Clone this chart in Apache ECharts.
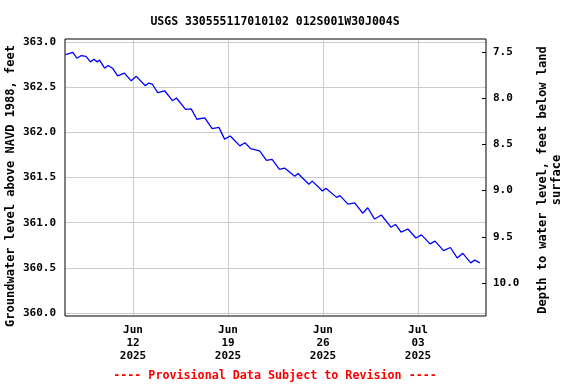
<!DOCTYPE html>
<html>
<head>
<meta charset="utf-8">
<script src="https://cdn.jsdelivr.net/npm/echarts@6/dist/echarts.min.js"></script>
<style>html,body{margin:0;padding:0;background:#fff}#c{width:576px;height:384px}</style>
</head>
<body>
<div id="c"></div>
<script>
const titleText = 'USGS 330555117010102 012S001W30J004S';
const footerText = '---- Provisional Data Subject to Revision ----';
const leftName = 'Groundwater level above NAVD 1988, feet';
const rightName = 'Depth to water level, feet below land\nsurface';

const times = [
 '2025-06-07 01:00','2025-06-07 14:00','2025-06-07 21:00','2025-06-08 05:00','2025-06-08 13:00',
 '2025-06-08 21:00','2025-06-09 03:00','2025-06-09 09:00','2025-06-09 13:00','2025-06-09 22:00',
 '2025-06-10 04:00','2025-06-10 12:00','2025-06-10 21:00','2025-06-11 09:00','2025-06-11 21:00',
 '2025-06-12 06:00','2025-06-12 22:00','2025-06-13 04:00','2025-06-13 10:00','2025-06-13 20:00',
 '2025-06-14 08:00','2025-06-14 22:00','2025-06-15 05:00','2025-06-15 21:00','2025-06-16 07:00',
 '2025-06-16 17:00','2025-06-17 07:00','2025-06-17 20:00','2025-06-18 08:00','2025-06-18 18:00',
 '2025-06-19 04:00','2025-06-19 21:00','2025-06-20 06:00','2025-06-20 16:00','2025-06-21 08:00',
 '2025-06-21 20:00','2025-06-22 06:00','2025-06-22 19:00','2025-06-23 04:00','2025-06-23 22:00',
 '2025-06-24 04:00','2025-06-24 10:00','2025-06-24 23:00','2025-06-25 05:00','2025-06-25 23:00',
 '2025-06-26 05:00','2025-06-27 00:00','2025-06-27 06:00','2025-06-27 20:00','2025-06-28 08:00',
 '2025-06-28 22:00','2025-06-29 07:00','2025-06-29 19:00','2025-06-30 07:00','2025-07-01 00:00',
 '2025-07-01 08:00','2025-07-01 18:00','2025-07-02 06:00','2025-07-02 20:00','2025-07-03 06:00',
 '2025-07-03 21:00','2025-07-04 06:00','2025-07-04 21:00','2025-07-05 09:00','2025-07-05 21:00',
 '2025-07-06 07:00','2025-07-06 21:00','2025-07-07 04:00','2025-07-07 13:00'
];
const levels = [
 362.86,362.885,362.82,362.85,362.84,
 362.78,362.81,362.78,362.80,362.71,
 362.74,362.71,362.625,362.655,362.57,
 362.62,362.515,362.545,362.535,362.44,
 362.46,362.35,362.38,362.255,362.26,
 362.145,362.16,362.04,362.055,361.925,
 361.96,361.85,361.885,361.82,361.795,
 361.69,361.70,361.59,361.605,361.515,
 361.545,361.505,361.425,361.46,361.35,
 361.38,361.28,361.30,361.205,361.22,
 361.105,361.165,361.04,361.085,360.95,
 360.98,360.895,360.93,360.83,360.865,
 360.765,360.795,360.69,360.725,360.61,
 360.66,360.555,360.585,360.555
];

const xStart = '2025-06-07 00:00', xEnd = '2025-07-08 00:00';
const tickStart = '2025-06-12 00:00', tickEnd = '2025-07-03 00:00';
const tickDays = 7;
const leftMin = 360.0, leftMax = 363.0, leftStep = 0.5;
const rightMin = 7.5, rightMax = 10.0, rightStep = 0.5;

function toMs(s){
  const [d,t] = s.split(' ');
  const [Y,M,D] = d.split('-').map(Number);
  const [h,m] = t.split(':').map(Number);
  return Date.UTC(Y, M-1, D, h, m);
}
const MON = ['Jan','Feb','Mar','Apr','May','Jun','Jul','Aug','Sep','Oct','Nov','Dec'];
const FONT = '"DejaVu Sans Mono", monospace';
const data = times.map((t,i) => [toMs(t), levels[i]]);

const chart = echarts.init(document.getElementById('c'), null, {renderer:'canvas'});
const lbl = {fontFamily: FONT, fontSize: 11, fontWeight: 'bold', color: '#000'};
const grey = {color: '#cccccc', width: 1};

chart.setOption({
  animation: false,
  backgroundColor: '#fff',
  title: [
    {text: titleText, left: 270, top: 11, textAlign: 'center',
     textStyle: {fontFamily: FONT, fontSize: 11.5, fontWeight: 'bold', color: '#000'}},
    {text: footerText, left: 270, top: 365, textAlign: 'center',
     textStyle: {fontFamily: FONT, fontSize: 11.7, fontWeight: 'bold', color: '#ff0000'}}
  ],
  grid: [
    {left: 65, right: 90, top: 39, bottom: 68, show: true, borderColor: '#000', borderWidth: 1, backgroundColor: 'transparent', z: 10},
    {left: 65, right: 90, top: 42, bottom: 71},
    {left: 133, right: 158, top: 39, bottom: 68},
    {left: 65, right: 90, top: 52, bottom: 101}
  ],
  xAxis: [
    {gridIndex: 0, type: 'value', min: 0, max: 1, show: false},
    {gridIndex: 1, type: 'value', min: toMs(xStart), max: toMs(xEnd), show: false},
    {gridIndex: 2, type: 'value', min: toMs(tickStart), max: toMs(tickEnd), interval: tickDays*86400000,
     axisLine: {show: false, onZero: false}, axisTick: {show: false},
     splitLine: {show: true, lineStyle: grey},
     axisLabel: Object.assign({}, lbl, {margin: 8, lineHeight: 13, showMinLabel: true, showMaxLabel: true,
       formatter: v => { const d = new Date(v); return MON[d.getUTCMonth()] + '\n' + String(d.getUTCDate()).padStart(2,'0') + '\n' + d.getUTCFullYear(); }})},
    {gridIndex: 3, type: 'value', min: 0, max: 1, show: false}
  ],
  yAxis: [
    {gridIndex: 0, type: 'value', min: 0, max: 1, show: false},
    {gridIndex: 1, type: 'value', min: leftMin, max: leftMax, interval: leftStep,
     axisLine: {show: false, onZero: false}, axisTick: {show: false},
     splitLine: {show: true, lineStyle: grey},
     axisLabel: Object.assign({}, lbl, {margin: 9, formatter: v => v.toFixed(1)})},
    {gridIndex: 2, type: 'value', min: 0, max: 1, show: false},
    {gridIndex: 3, type: 'value', position: 'right', inverse: true, min: rightMin, max: rightMax, interval: rightStep,
     axisLine: {show: false, onZero: false},
     axisTick: {show: true, inside: true, length: 4, lineStyle: {color: '#000', width: 1}},
     splitLine: {show: false},
     axisLabel: Object.assign({}, lbl, {margin: 7, formatter: v => v.toFixed(1)})}
  ],
  graphic: [
    {type: 'text', x: 11, y: 186, rotation: Math.PI/2,
     style: {text: leftName, font: 'bold 12px ' + FONT, textAlign: 'center', textVerticalAlign: 'middle', fill: '#000'}},
    {type: 'text', x: 550, y: 180, rotation: Math.PI/2,
     style: {text: rightName, font: 'bold 12px ' + FONT, textAlign: 'center', textVerticalAlign: 'middle', lineHeight: 14, fill: '#000'}}
  ],
  series: [
    {type: 'line', xAxisIndex: 1, yAxisIndex: 1, data: data, symbol: 'none',
     lineStyle: {color: '#0000ff', width: 1.3}, z: 5}
  ]
});
</script>
</body>
</html>
